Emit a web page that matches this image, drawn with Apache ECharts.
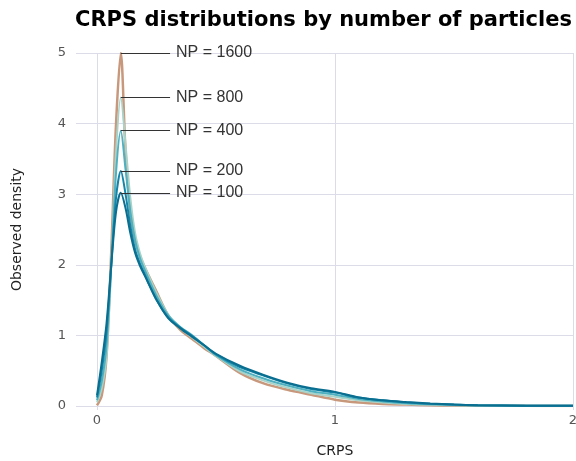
<!DOCTYPE html>
<html>
<head>
<meta charset="utf-8">
<script src="https://cdn.jsdelivr.net/npm/echarts@6/dist/echarts.min.js"></script>
<style>
  html, body { margin: 0; padding: 0; background: #fff; }
  #chart { width: 576px; height: 461px; }
</style>
</head>
<body>
<div id="chart"></div>
<script>
// CRPS values (x) shared by every density curve
const crps = [0, 0.02, 0.04, 0.06, 0.08, 0.1, 0.12, 0.14, 0.16, 0.18, 0.2, 0.25, 0.3, 0.35, 0.4, 0.45, 0.5,
  0.6, 0.7, 0.8, 0.9, 1.0, 1.1, 1.2, 1.3, 1.4, 1.5, 1.6, 1.8, 2.0];

const np100 = [0.15, 0.62, 1.17, 2.0, 2.75, 3.02, 2.8, 2.45, 2.17, 1.99, 1.85, 1.51, 1.24, 1.1, 0.98, 0.86, 0.74,
  0.57, 0.44, 0.33, 0.25, 0.2, 0.12, 0.08, 0.055, 0.035, 0.02, 0.012, 0.005, 0.003];
const np200 = [0.12, 0.5, 1.05, 2.0, 2.95, 3.33, 3.0, 2.55, 2.22, 2.02, 1.87, 1.5, 1.25, 1.11, 0.99, 0.86, 0.73,
  0.55, 0.43, 0.32, 0.24, 0.19, 0.12, 0.08, 0.05, 0.032, 0.02, 0.01, 0.005, 0.003];
const np400 = [0.08, 0.35, 0.85, 2.0, 3.3, 3.9, 3.35, 2.75, 2.35, 2.1, 1.93, 1.56, 1.28, 1.12, 1.0, 0.86, 0.72,
  0.52, 0.39, 0.29, 0.21, 0.16, 0.1, 0.065, 0.04, 0.025, 0.015, 0.008, 0.004, 0.002];
const np800 = [0.05, 0.25, 0.7, 2.0, 3.6, 4.37, 3.7, 2.95, 2.45, 2.17, 1.98, 1.6, 1.29, 1.1, 0.97, 0.84, 0.71,
  0.49, 0.36, 0.26, 0.18, 0.13, 0.08, 0.05, 0.03, 0.018, 0.01, 0.006, 0.003, 0.002];
const np1600 = [0.01, 0.15, 0.7, 2.2, 4.0, 5.0, 3.6, 2.75, 2.35, 2.13, 1.97, 1.62, 1.28, 1.08, 0.95, 0.82, 0.71,
  0.47, 0.32, 0.23, 0.16, 0.09, 0.05, 0.03, 0.02, 0.01, 0.006, 0.004, 0.002, 0.001];

const seriesNames = ["NP = 1600", "NP = 800", "NP = 400", "NP = 200", "NP = 100"];
const seriesValues = [np1600, np800, np400, np200, np100];
const seriesColors = ["#c8987c", "#a9d3c9", "#4fb0c0", "#1485a8", "#0a6e90"];

const labelEndX = 0.307; // where the annotation leader lines stop

const gridColor = "#dcdce8";

const series = seriesNames.map((name, i) => {
  const vals = seriesValues[i];
  const peak = Math.max(...vals);
  const peakX = crps[vals.indexOf(peak)];
  return {
    name: name,
    type: "line",
    data: crps.map((x, j) => [x, vals[j]]),
    smooth: 0.3,
    symbol: "none",
    lineStyle: { color: seriesColors[i], width: i === 0 ? 2.5 : 2 },
    itemStyle: { color: seriesColors[i] },
    markLine: {
      silent: true,
      symbol: "none",
      lineStyle: { color: "#333", width: 1, type: "solid" },
      label: {
        show: true,
        position: "end",
        distance: 6,
        formatter: name,
        color: "#333",
        fontSize: 16,
        fontFamily: "Liberation Sans",
      },
      data: [[{ coord: [peakX, peak] }, { coord: [labelEndX, peak] }]],
    },
  };
});

const chart = echarts.init(document.getElementById("chart"), null, { renderer: "canvas" });

chart.setOption({
  animation: false,
  title: {
    text: "CRPS distributions by number of particles",
    left: 70,
    top: 5,
    textStyle: { fontFamily: "DejaVu Sans", fontWeight: "bold", fontSize: 21, color: "#000" },
  },
  grid: { left: 97, right: 3, top: 53, bottom: 55, outerBoundsMode: "none", containLabel: false },
  xAxis: {
    type: "value",
    min: 0,
    max: 2,
    interval: 1,
    name: "CRPS",
    nameLocation: "middle",
    nameGap: 38,
    nameTextStyle: { fontFamily: "DejaVu Sans", fontSize: 14, color: "#222" },
    axisLine: { show: false },
    axisTick: { show: true, length: 4, lineStyle: { color: gridColor } },
    axisLabel: { fontFamily: "DejaVu Sans", fontSize: 13, color: "#555", margin: 8 },
    splitLine: { show: true, lineStyle: { color: gridColor, width: 1 } },
  },
  yAxis: {
    type: "value",
    min: 0,
    max: 5,
    interval: 1,
    name: "Observed density",
    nameLocation: "middle",
    nameGap: 73,
    nameTextStyle: { fontFamily: "DejaVu Sans", fontSize: 14, color: "#222" },
    axisLine: { show: false },
    axisTick: { show: true, length: 21, lineStyle: { color: gridColor } },
    axisLabel: { fontFamily: "DejaVu Sans", fontSize: 13, color: "#555", margin: 31 },
    splitLine: { show: true, lineStyle: { color: gridColor, width: 1 } },
  },
  series: series,
});
</script>
</body>
</html>
